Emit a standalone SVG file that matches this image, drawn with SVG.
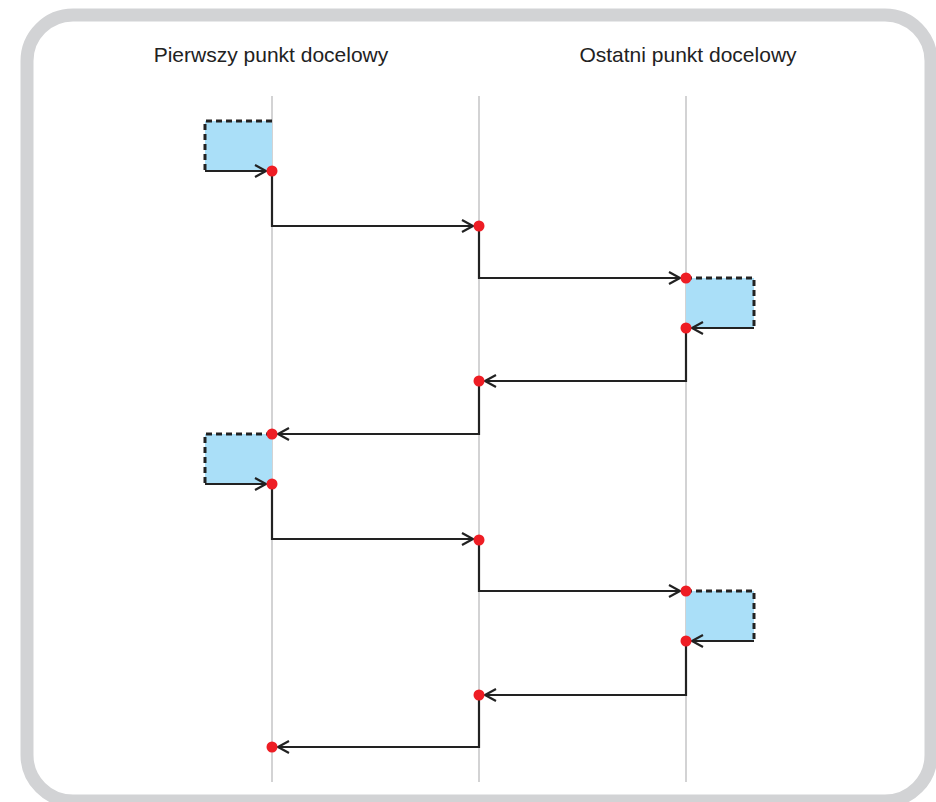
<svg xmlns="http://www.w3.org/2000/svg" width="936" height="802" viewBox="0 0 936 802">
<style>
.frame{fill:#fff;stroke:#d2d3d5;stroke-width:13}
.lane{stroke:#c4c4c6;stroke-width:1.5;fill:none}
.lbl{font-family:"Liberation Sans",Arial,sans-serif;font-size:21px;fill:#222;text-anchor:middle}
.box{fill:#aadff8;stroke:none}
.dash{stroke:#222;stroke-width:3;stroke-dasharray:6,4;fill:none}
.conn{stroke:#222;stroke-width:2.2;fill:none;marker-end:url(#ah)}
.dot{fill:#ee1d24}
</style>
<defs>
<marker id="ah" markerUnits="userSpaceOnUse" markerWidth="16" markerHeight="16" refX="12" refY="8" orient="auto">
<path d="M1,2 L12,8 L1,14" fill="none" stroke="#222" stroke-width="2.2"/>
</marker>
</defs>
<rect class="frame" x="27" y="15" width="904" height="786" rx="46" ry="46"/>
<text class="lbl" x="271" y="62">Pierwszy punkt docelowy</text>
<text class="lbl" x="688" y="62">Ostatni punkt docelowy</text>
<g id="lanes">
<line class="lane" x1="272" y1="96" x2="272" y2="782"/>
<line class="lane" x1="479" y1="96" x2="479" y2="782"/>
<line class="lane" x1="686" y1="96" x2="686" y2="782"/>
</g>
<g id="box1"><rect class="box" x="205" y="121" width="67" height="50"/><path class="dash" d="M272,121 H205 V171"/></g>
<g id="box2"><rect class="box" x="686" y="278" width="68" height="50"/><path class="dash" d="M686,278 H754 V328"/></g>
<g id="box3"><rect class="box" x="205" y="434" width="67" height="50"/><path class="dash" d="M272,434 H205 V484"/></g>
<g id="box4"><rect class="box" x="686" y="591" width="68" height="50"/><path class="dash" d="M686,591 H754 V641"/></g>
<g id="connectors">
<path class="conn" d="M205,171 H266"/>
<path class="conn" d="M272,171 V226 H473"/>
<path class="conn" d="M479,226 V278 H680"/>
<path class="conn" d="M754,328 H692"/>
<path class="conn" d="M686,328 V381 H485"/>
<path class="conn" d="M479,381 V434 H278"/>
<path class="conn" d="M205,484 H266"/>
<path class="conn" d="M272,484 V539 H473"/>
<path class="conn" d="M479,540 V591 H680"/>
<path class="conn" d="M754,641 H692"/>
<path class="conn" d="M686,641 V695 H485"/>
<path class="conn" d="M479,695 V747 H278"/>
</g>
<g id="points">
<circle class="dot" cx="272" cy="171" r="5.5"/>
<circle class="dot" cx="479" cy="226" r="5.5"/>
<circle class="dot" cx="686" cy="278" r="5.5"/>
<circle class="dot" cx="686" cy="328" r="5.5"/>
<circle class="dot" cx="479" cy="381" r="5.5"/>
<circle class="dot" cx="272" cy="434" r="5.5"/>
<circle class="dot" cx="272" cy="484" r="5.5"/>
<circle class="dot" cx="479" cy="540" r="5.5"/>
<circle class="dot" cx="686" cy="591" r="5.5"/>
<circle class="dot" cx="686" cy="641" r="5.5"/>
<circle class="dot" cx="479" cy="695" r="5.5"/>
<circle class="dot" cx="272" cy="747" r="5.5"/>
</g>
</svg>
